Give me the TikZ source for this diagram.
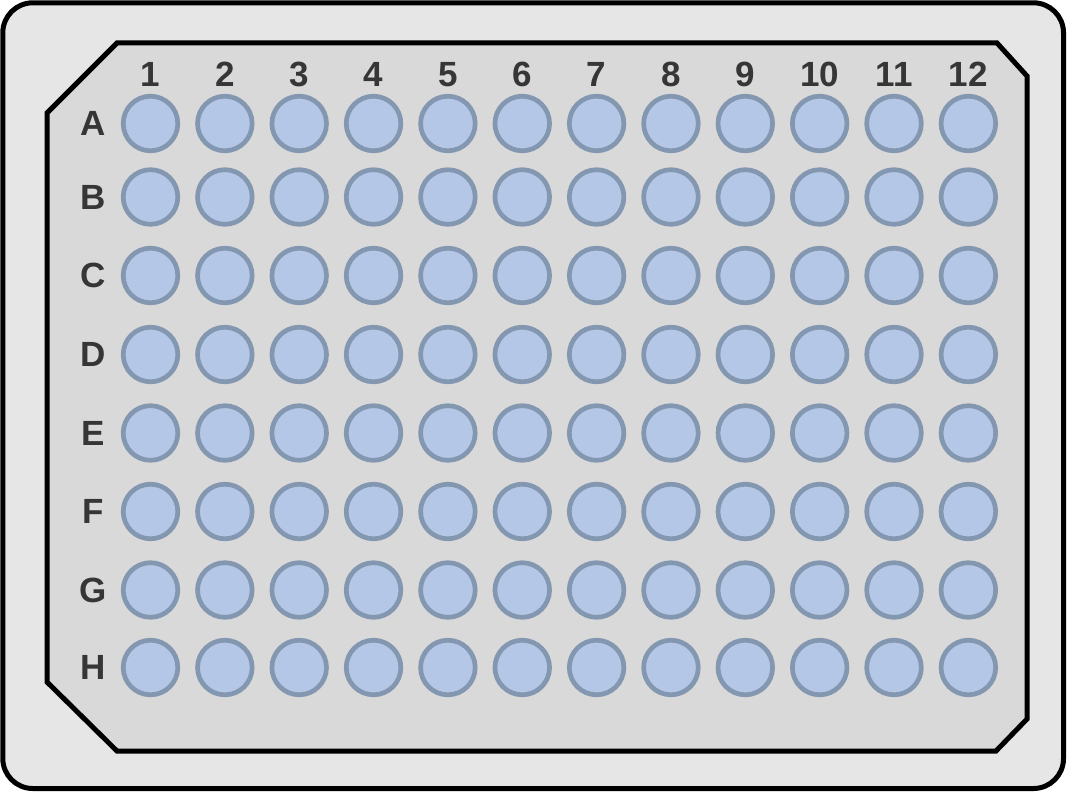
\documentclass[tikz,border=0pt]{standalone}
\usepackage{fontspec}
\setmainfont{Liberation Sans}
\definecolor{rimgray}{HTML}{E6E6E6}
\definecolor{plategray}{HTML}{D9D9D9}
\definecolor{wellfill}{HTML}{B4C7E7}
\definecolor{welledge}{HTML}{8497B0}
\definecolor{labelgray}{HTML}{363636}
\tikzset{
  well/.style={circle, draw=welledge, fill=wellfill, line width=4.7pt, minimum size=54.6pt, inner sep=0pt},
  platelabel/.style={text=labelgray, font=\fontsize{35}{35}\selectfont\bfseries, inner sep=0pt}
}
\begin{document}
\begin{tikzpicture}[x=1pt,y=-1pt]
\useasboundingbox (0,0) rectangle (1067,792);
\draw[line width=5pt, fill=rimgray, rounded corners=30pt] (2.8,2.8) rectangle (1063.5,788.5);
\draw[line width=5pt, fill=plategray] (117,43) -- (997,43) -- (1027,76) -- (1027,719)
  -- (996,751) -- (117,751) -- (47,682) -- (47,113) -- cycle;
\foreach \col in {1,...,12}
  \node[platelabel] (c\col) at ({150.5+74.35*(\col-1)},74.5) {\col};
\foreach \row/\y in {A/123.5,B/197,C/275.5,D/354.5,E/433,F/511.5,G/590,H/667.5} {
  \node[platelabel] (r\row) at (93,\y) {\row};
  \foreach \col in {1,...,12}
    \node[well] (w\row\col) at ({150.5+74.35*(\col-1)},\y) {};
}
\end{tikzpicture}
\end{document}
